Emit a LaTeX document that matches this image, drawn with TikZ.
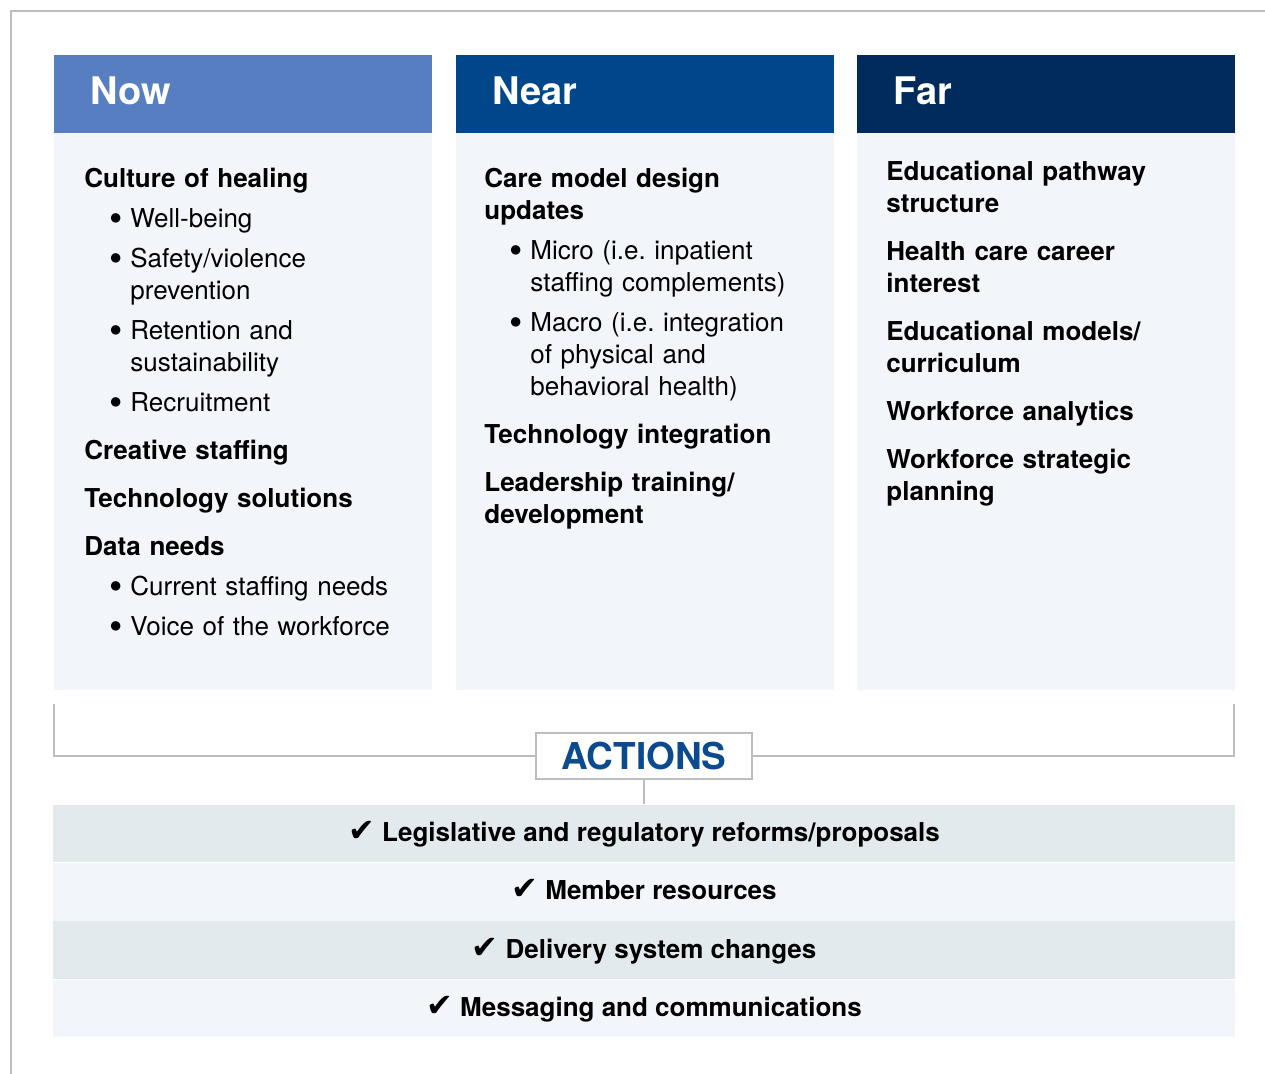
\documentclass[tikz,border=0pt]{standalone}
\usepackage{fontspec}
\setmainfont{TeX Gyre Heros}
\newfontfamily\symfont{DejaVu Sans}
\usetikzlibrary{positioning}

\definecolor{nowblue}{HTML}{587EC2}
\definecolor{nearblue}{HTML}{00468A}
\definecolor{farblue}{HTML}{002B5C}
\definecolor{panel}{HTML}{F2F5F9}
\definecolor{band}{HTML}{E3EAEE}
\definecolor{rulegray}{HTML}{BDBDBD}
\definecolor{actblue}{HTML}{0B4A8E}

% list macros for the column texts
\newcommand{\topic}[1]{\par\vspace{8pt}\noindent\textbf{#1}\par}
\newcommand{\point}[1]{\par\vspace{4pt}{\leftskip=23pt\noindent\llap{\raisebox{-1.6pt}{\fontsize{19}{16}\selectfont\textbullet}\hspace{4pt}}#1\par}}
\newcommand{\done}{{\symfont\fontsize{16}{16}\selectfont ✔}\ }

\tikzset{
  coltxt/.style={anchor=base west, inner sep=0pt, text width=172pt, align=left,
    font=\fontsize{13}{16}\selectfont,
    execute at begin node={\parindent=0pt\parskip=0pt\frenchspacing}},
  headtxt/.style={anchor=base west, inner sep=0pt, text=white,
    font=\fontsize{19}{22}\selectfont\bfseries},
  rule/.style={rulegray, line width=0.8pt},
  actbox/.style={draw=rulegray, line width=0.8pt, fill=white, text=actblue, inner sep=0pt,
    minimum width=108pt, minimum height=23pt, font=\fontsize{18.5}{20}\selectfont\bfseries},
  band/.style={inner sep=0pt, minimum width=591pt, minimum height=28.75pt,
    text height=10pt, text depth=2pt, font=\fontsize{13}{16}\selectfont\bfseries}
}

\begin{document}
\begin{tikzpicture}[x=0.5pt, y=-0.5pt]
\useasboundingbox (0,0) rectangle (1265,1074);
\draw[rulegray, line width=1pt] (1265,11) -| (11,1074);

% the three columns
\foreach \x/\c/\n/\t in {54/nowblue/nowhd/Now, 456/nearblue/nearhd/Near, 857/farblue/farhd/Far}{
  \fill[\c] (\x,55) rectangle ++(378,78);
  \fill[panel] (\x,133) rectangle ++(378,557);
  \node[headtxt] (\n) at (\x+36,105) {\t};
}

\node[coltxt] (nowtxt) at (84,188) {\textbf{Culture of healing}
  \point{Well-being}
  \point{Safety/violence\\prevention}
  \point{Retention and\\sustainability}
  \point{Recruitment}
  \topic{Creative staffing}
  \topic{Technology solutions}
  \topic{Data needs}
  \point{Current staffing needs}
  \point{Voice of the workforce}};

\node[coltxt] (neartxt) at (484,188) {\textbf{Care model design\\updates}
  \point{Micro (i.e. inpatient\\staffing complements)}
  \point{Macro (i.e. integration\\of physical and\\behavioral health)}
  \topic{Technology integration}
  \topic{Leadership training/\\development}};

\node[coltxt] (fartxt) at (886,181) {\textbf{Educational pathway\\structure}
  \topic{Health care career\\interest}
  \topic{Educational models/\\curriculum}
  \topic{Workforce analytics}
  \topic{Workforce strategic\\planning}};

% actions
\node[actbox] (act) at (644,756) {ACTIONS};
\node[band, fill=band] (row1) at (644,833.5) {\done Legislative and regulatory reforms/proposals};
\node[band, fill=panel, below=0pt of row1] (row2) {\done Member resources};
\node[band, fill=band, below=0pt of row2] (row3) {\done Delivery system changes};
\node[band, fill=panel, below=0pt of row3] (row4) {\done Messaging and communications};

\coordinate (bl) at (54,704);
\coordinate (br) at (1234,704);
\draw[rule] (bl) |- (act.west);
\draw[rule] (br) |- (act.east);
\draw[rule] (act.south) -- (row1.north);
\end{tikzpicture}
\end{document}
